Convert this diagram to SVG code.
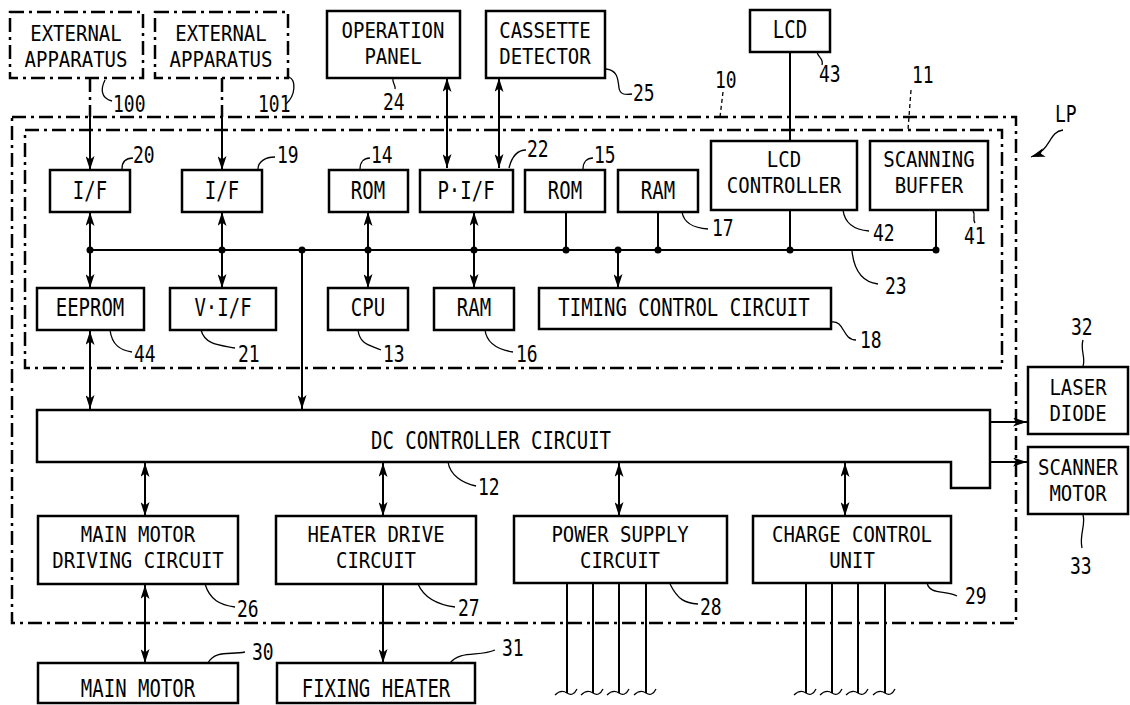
<svg xmlns="http://www.w3.org/2000/svg" width="1130" height="705" viewBox="0 0 1130 705">
<style>
.bx{fill:none;stroke:#000;stroke-width:2.5}
.dd{fill:none;stroke:#000;stroke-width:2.5;stroke-dasharray:14 5 3 5}
.ln{fill:none;stroke:#000;stroke-width:2}
.ld{fill:none;stroke:#000;stroke-width:1.3}
.lda{fill:none;stroke:#000;stroke-width:1.3;stroke-dasharray:4 3}
.ar{marker-end:url(#ah)}
.ar2{marker-end:url(#ah);marker-start:url(#ah)}
.t{font-family:"DejaVu Sans Mono","Liberation Mono",monospace;font-size:19px;text-anchor:middle;fill:#000}
.n{font-family:"DejaVu Sans Mono","Liberation Mono",monospace;font-size:18px;fill:#000}
.dot{fill:#000}
</style>
<defs>
<marker id="ah" viewBox="0 0 14 9" refX="14" refY="4.5" markerWidth="14" markerHeight="9" markerUnits="userSpaceOnUse" orient="auto-start-reverse"><path d="M0,0 L14,4.5 L0,9 L3.5,4.5 z"/></marker>
</defs>
<rect width="1130" height="705" fill="#fff"/>

<g id="frame-10">
<rect class="dd" x="12" y="117" width="1004" height="506"/>
<path class="lda" d="M723,92 L720,117"/>
<text class="n" transform="translate(715,88) scale(1,1.3)">10</text>
<path class="ld" d="M1063,130 C1048,132 1052,150 1031,157" marker-end="url(#ah)"/>
<text class="n" transform="translate(1055,122) scale(1,1.3)">LP</text>
</g>
<g id="frame-11">
<rect class="dd" x="25" y="130" width="977" height="238"/>
<path class="lda" d="M911,90 L908,130"/>
<text class="n" transform="translate(912,83) scale(1,1.3)">11</text>
</g>

<g id="ext100">
<rect class="dd" x="10" y="12" width="133" height="66"/>
<text class="t" transform="translate(76,41) scale(1,1.15)">EXTERNAL</text>
<text class="t" transform="translate(76,67) scale(1,1.15)">APPARATUS</text>
<path class="ld" d="M105,80 C101,88 100,98 112,101"/>
<text class="n" transform="translate(113,112) scale(1,1.3)">100</text>
</g>
<g id="ext101">
<rect class="dd" x="155" y="12" width="133" height="66"/>
<text class="t" transform="translate(221,41) scale(1,1.15)">EXTERNAL</text>
<text class="t" transform="translate(221,67) scale(1,1.15)">APPARATUS</text>
<path class="ld" d="M289,77 C296,80 296,95 286,104"/>
<text class="n" transform="translate(258,112) scale(1,1.3)">101</text>
</g>
<g id="panel24">
<rect class="bx" x="327" y="11" width="133" height="67"/>
<text class="t" transform="translate(393,38) scale(1,1.15)">OPERATION</text>
<text class="t" transform="translate(393,64) scale(1,1.15)">PANEL</text>
<path class="ld" d="M393,79 C392,83 396,85 395,89"/>
<text class="n" transform="translate(383,110) scale(1,1.3)">24</text>
</g>
<g id="cassette25">
<rect class="bx" x="486" y="11" width="119" height="67"/>
<text class="t" transform="translate(545,38) scale(1,1.15)">CASSETTE</text>
<text class="t" transform="translate(545,64) scale(1,1.15)">DETECTOR</text>
<path class="ld" d="M606,69 C618,70 618,80 619,88 C620,95 626,95 632,94"/>
<text class="n" transform="translate(633,101) scale(1,1.3)">25</text>
</g>
<g id="lcd43">
<rect class="bx" x="750" y="10" width="80" height="42"/>
<text class="t" transform="translate(790,38) scale(1,1.3)">LCD</text>
<path class="ld" d="M817,52 C818,58 824,58 822,65"/>
<text class="n" transform="translate(819,82) scale(1,1.3)">43</text>
</g>

<g id="if20">
<rect class="bx" x="50" y="170" width="80" height="42"/>
<text class="t" transform="translate(90,199) scale(1,1.3)">I/F</text>
<path class="ld" d="M122,169 C122,162 126,158 133,158"/>
<text class="n" transform="translate(133,163) scale(1,1.3)">20</text>
</g>
<g id="if19">
<rect class="bx" x="182" y="170" width="80" height="42"/>
<text class="t" transform="translate(222,199) scale(1,1.3)">I/F</text>
<path class="ld" d="M258,169 C258,162 265,157 275,157"/>
<text class="n" transform="translate(277,163) scale(1,1.3)">19</text>
</g>
<g id="rom14">
<rect class="bx" x="329" y="170" width="79" height="42"/>
<text class="t" transform="translate(368,199) scale(1,1.3)">ROM</text>
<path class="ld" d="M360,169 C360,162 364,158 370,158"/>
<text class="n" transform="translate(371,163) scale(1,1.3)">14</text>
</g>
<g id="pif22">
<rect class="bx" x="420" y="170" width="93" height="42"/>
<text class="t" transform="translate(466,199) scale(1,1.3)">P·I/F</text>
<path class="ld" d="M509,168 C512,156 517,150 526,150"/>
<text class="n" transform="translate(527,157) scale(1,1.3)">22</text>
</g>
<g id="rom15">
<rect class="bx" x="525" y="170" width="80" height="42"/>
<text class="t" transform="translate(565,199) scale(1,1.3)">ROM</text>
<path class="ld" d="M583,169 C583,162 587,158 593,158"/>
<text class="n" transform="translate(594,163) scale(1,1.3)">15</text>
</g>
<g id="ram17">
<rect class="bx" x="618" y="170" width="80" height="42"/>
<text class="t" transform="translate(658,199) scale(1,1.3)">RAM</text>
<path class="ld" d="M682,212 C684,224 694,228 708,229"/>
<text class="n" transform="translate(712,236) scale(1,1.3)">17</text>
</g>
<g id="lcdc42">
<rect class="bx" x="711" y="141" width="146" height="69"/>
<text class="t" transform="translate(784,167) scale(1,1.15)">LCD</text>
<text class="t" transform="translate(784,193) scale(1,1.15)">CONTROLLER</text>
<path class="ld" d="M843,210 C845,225 856,230 869,231"/>
<text class="n" transform="translate(873,241) scale(1,1.3)">42</text>
</g>
<g id="scan41">
<rect class="bx" x="870" y="141" width="118" height="69"/>
<text class="t" transform="translate(929,167) scale(1,1.15)">SCANNING</text>
<text class="t" transform="translate(929,193) scale(1,1.15)">BUFFER</text>
<path class="ld" d="M973,211 C976,215 972,219 975,223"/>
<text class="n" transform="translate(964,244) scale(1,1.3)">41</text>
</g>

<g id="eeprom44">
<rect class="bx" x="37" y="288" width="107" height="42"/>
<text class="t" transform="translate(90,316) scale(1,1.3)">EEPROM</text>
<path class="ld" d="M110,330 C112,345 120,350 132,352"/>
<text class="n" transform="translate(134,362) scale(1,1.3)">44</text>
</g>
<g id="vif21">
<rect class="bx" x="170" y="288" width="106" height="42"/>
<text class="t" transform="translate(223,316) scale(1,1.3)">V·I/F</text>
<path class="ld" d="M201,330 C205,345 220,345 235,348"/>
<text class="n" transform="translate(238,362) scale(1,1.3)">21</text>
</g>
<g id="cpu13">
<rect class="bx" x="328" y="288" width="80" height="42"/>
<text class="t" transform="translate(368,316) scale(1,1.3)">CPU</text>
<path class="ld" d="M358,330 C360,345 370,345 381,350"/>
<text class="n" transform="translate(383,362) scale(1,1.3)">13</text>
</g>
<g id="ram16">
<rect class="bx" x="434" y="288" width="80" height="42"/>
<text class="t" transform="translate(474,316) scale(1,1.3)">RAM</text>
<path class="ld" d="M485,330 C487,345 500,350 513,352"/>
<text class="n" transform="translate(516,362) scale(1,1.3)">16</text>
</g>
<g id="timing18">
<rect class="bx" x="539" y="288" width="292" height="41"/>
<text class="t" transform="translate(684,316) scale(1,1.3)">TIMING CONTROL CIRCUIT</text>
<path class="ld" d="M831,322 C845,320 842,340 856,340"/>
<text class="n" transform="translate(860,348) scale(1,1.3)">18</text>
</g>

<g id="dc12">
<path class="bx" d="M37,410 H990 V488 H951 V462 H37 Z"/>
<text class="t" transform="translate(491,449) scale(1,1.3)">DC CONTROLLER CIRCUIT</text>
<path class="ld" d="M448,462 C450,475 462,483 476,486"/>
<text class="n" transform="translate(478,495) scale(1,1.3)">12</text>
</g>
<g id="laser32">
<rect class="bx" x="1028" y="367" width="100" height="67"/>
<text class="t" transform="translate(1078,395) scale(1,1.15)">LASER</text>
<text class="t" transform="translate(1078,421) scale(1,1.15)">DIODE</text>
<path class="ld" d="M1083,366 C1086,358 1080,350 1083,340"/>
<text class="n" transform="translate(1071,335) scale(1,1.3)">32</text>
</g>
<g id="scanner33">
<rect class="bx" x="1028" y="447" width="100" height="67"/>
<text class="t" transform="translate(1078,475) scale(1,1.15)">SCANNER</text>
<text class="t" transform="translate(1078,501) scale(1,1.15)">MOTOR</text>
<path class="ld" d="M1083,515 C1086,525 1079,535 1082,548"/>
<text class="n" transform="translate(1070,574) scale(1,1.3)">33</text>
</g>

<g id="mmd26">
<rect class="bx" x="38" y="516" width="200" height="68"/>
<text class="t" transform="translate(138,542) scale(1,1.15)">MAIN MOTOR</text>
<text class="t" transform="translate(138,568) scale(1,1.15)">DRIVING CIRCUIT</text>
<path class="ld" d="M205,584 C210,600 220,605 235,607"/>
<text class="n" transform="translate(237,617) scale(1,1.3)">26</text>
</g>
<g id="heater27">
<rect class="bx" x="276" y="516" width="200" height="68"/>
<text class="t" transform="translate(376,542) scale(1,1.15)">HEATER DRIVE</text>
<text class="t" transform="translate(376,568) scale(1,1.15)">CIRCUIT</text>
<path class="ld" d="M418,584 C425,600 440,605 455,607"/>
<text class="n" transform="translate(458,616) scale(1,1.3)">27</text>
</g>
<g id="power28">
<rect class="bx" x="514" y="516" width="213" height="67"/>
<text class="t" transform="translate(620,542) scale(1,1.15)">POWER SUPPLY</text>
<text class="t" transform="translate(620,568) scale(1,1.15)">CIRCUIT</text>
<path class="ld" d="M670,584 C678,600 685,603 698,604"/>
<text class="n" transform="translate(700,615) scale(1,1.3)">28</text>
</g>
<g id="charge29">
<rect class="bx" x="753" y="516" width="198" height="67"/>
<text class="t" transform="translate(852,542) scale(1,1.15)">CHARGE CONTROL</text>
<text class="t" transform="translate(852,568) scale(1,1.15)">UNIT</text>
<path class="ld" d="M927,583 C930,595 945,590 957,596"/>
<text class="n" transform="translate(965,604) scale(1,1.3)">29</text>
</g>
<g id="mainmotor30">
<rect class="bx" x="38" y="663" width="200" height="40"/>
<text class="t" transform="translate(138,697) scale(1,1.3)">MAIN MOTOR</text>
<path class="ld" d="M208,663 C215,650 230,655 245,652"/>
<text class="n" transform="translate(252,660) scale(1,1.3)">30</text>
</g>
<g id="fixing31">
<rect class="bx" x="277" y="663" width="198" height="40"/>
<text class="t" transform="translate(376,697) scale(1,1.3)">FIXING HEATER</text>
<path class="ld" d="M450,663 C460,650 480,657 495,650"/>
<text class="n" transform="translate(502,656) scale(1,1.3)">31</text>
</g>

<g id="connectors">
<path class="dd" d="M90,78 V117 M222,78 V117"/>
<path class="ln ar" d="M90,117 V170"/>
<path class="ln ar" d="M222,117 V170"/>
<path class="ln ar2" d="M447,78 V168"/>
<path class="ln ar2" d="M499,78 V168"/>
<path class="ln" d="M790,52 V141"/>
<path class="ln" d="M90,250 H936"/>
<path class="ln ar" d="M90,250 V212"/><path class="ln ar" d="M90,250 V288"/>
<path class="ln ar" d="M222,250 V212"/><path class="ln ar" d="M222,250 V288"/>
<path class="ln ar" d="M368,250 V212"/><path class="ln ar" d="M368,250 V288"/>
<path class="ln ar" d="M474,250 V212"/><path class="ln ar" d="M474,250 V288"/>
<path class="ln ar" d="M618,250 V288"/>
<path class="ln" d="M566,212 V250 M658,212 V250 M790,210 V250 M936,210 V250"/>
<path class="ld" d="M852,251 C854,270 862,282 878,284"/>
<text class="n" transform="translate(885,294) scale(1,1.3)">23</text>
<circle class="dot" cx="90" cy="250" r="3.5"/>
<circle class="dot" cx="222" cy="250" r="3.5"/>
<circle class="dot" cx="302" cy="250" r="3.5"/>
<circle class="dot" cx="368" cy="250" r="3.5"/>
<circle class="dot" cx="474" cy="250" r="3.5"/>
<circle class="dot" cx="566" cy="250" r="3.5"/>
<circle class="dot" cx="618" cy="250" r="3.5"/>
<circle class="dot" cx="658" cy="250" r="3.5"/>
<circle class="dot" cx="790" cy="250" r="3.5"/>
<circle class="dot" cx="936" cy="250" r="3.5"/>
<path class="ln ar" d="M302,250 V409"/>
<path class="ln ar2" d="M90,331 V409"/>
<path class="ln ar" d="M990,422 H1027"/>
<path class="ln ar" d="M990,462 H1027"/>
<path class="ln ar2" d="M145,463 V516"/>
<path class="ln ar2" d="M383,463 V516"/>
<path class="ln ar2" d="M619,463 V516"/>
<path class="ln ar2" d="M845,463 V516"/>
<path class="ln ar2" d="M145,585 V663"/>
<path class="ln ar" d="M383,584 V663"/>
<path class="ln" d="M567,583 V693 M593,583 V693 M619,583 V693 M646,583 V693 M806,583 V693 M832,583 V693 M858,583 V693 M885,583 V693"/>
<path class="ld" d="M555,695 Q561,689 567,693 T577,689 M581,695 Q587,689 593,693 T603,689 M607,695 Q613,689 619,693 T629,689 M634,695 Q640,689 646,693 T656,689 M794,695 Q800,689 806,693 T816,689 M820,695 Q826,689 832,693 T842,689 M846,695 Q852,689 858,693 T868,689 M873,695 Q879,689 885,693 T895,689"/>
</g>
</svg>
